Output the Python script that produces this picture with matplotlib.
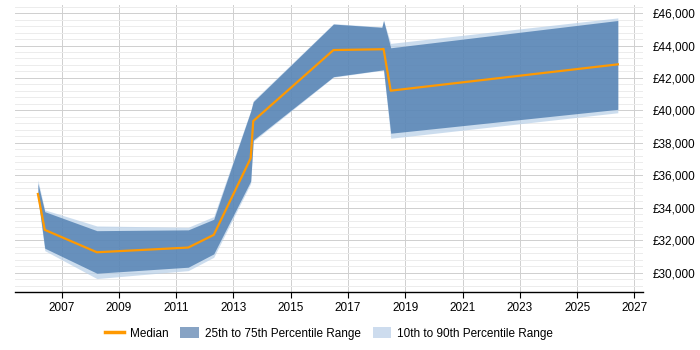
import numpy as np
import matplotlib
matplotlib.use('Agg')
import matplotlib.pyplot as plt
from matplotlib.ticker import FuncFormatter, MultipleLocator
from matplotlib.patches import Patch
from matplotlib.lines import Line2D

# sample dates (decimal years) and salary percentiles
years = [2006.17, 2006.41, 2008.23, 2011.42, 2012.31, 2013.60, 2013.69,
         2016.49, 2018.18, 2018.24, 2018.49, 2026.42]
median = [34860, 32650, 31270, 31560, 32340, 37060, 39350,
          43720, 43770, 43790, 41220, 42840]
p25 = [34650, 31520, 29980, 30350, 31170, 35650, 38180,
       42080, 42490, 42500, 38600, 40070]
p75 = [35520, 33770, 32600, 32650, 33300, 39950, 40540,
       45320, 45120, 45540, 43860, 45540]
p10 = [34550, 31370, 29650, 30140, 30960, 35500, 38100,
       42050, 42470, 42480, 38290, 39860]
p90 = [35720, 33880, 32890, 32810, 33470, 40000, 40600,
       45350, 45150, 45560, 44130, 45700]

xticks = list(range(2007, 2028, 2))

plt.rcParams['font.family'] = ['Liberation Sans', 'DejaVu Sans']

fig = plt.figure(figsize=(7, 3.5), dpi=100)
ax = fig.add_axes([0.021, 0.166, 0.898, 0.82])

# bands first, median on top
ax.fill_between(years, p10, p90, color='#b7cfe8', alpha=0.7, lw=0, zorder=2)
ax.fill_between(years, p25, p75, color='#3d70a7', alpha=0.7, lw=0, zorder=3)
ax.plot(years, median, color='#ff9900', lw=1.6, zorder=4)

ax.set_xlim(2005.36, 2027.31)
ax.set_ylim(28830, 46500)

ax.set_xticks(xticks)
ax.yaxis.tick_right()
ax.yaxis.set_major_locator(MultipleLocator(2000))
ax.yaxis.set_minor_locator(MultipleLocator(400))
ax.yaxis.set_major_formatter(FuncFormatter(lambda v, p: '£{:,.0f}'.format(v)))

ax.grid(True, which='major', axis='both', color='#cfcfcf', lw=0.7, zorder=0)
ax.grid(True, which='minor', axis='y', color='#ececec', lw=0.7, zorder=0)

for s in ['top', 'left', 'right']:
    ax.spines[s].set_visible(False)
ax.spines['bottom'].set_color('black')
ax.spines['bottom'].set_linewidth(1.0)

ax.tick_params(axis='x', direction='out', length=4, color='black', labelsize=8.5, pad=3)
ax.tick_params(axis='y', which='both', length=0, labelsize=8.5, pad=7)

handles = [Line2D([0], [0], color='#ff9900', lw=2.5),
           Patch(facecolor='#87a3c4', edgecolor='none'),
           Patch(facecolor='#cddcee', edgecolor='none')]
labels = ['Median', '25th to 75th Percentile Range', '10th to 90th Percentile Range']
fig.legend(handles, labels, loc='center', bbox_to_anchor=(0.47, 0.048), ncol=3,
           frameon=False, fontsize=8.5, handlelength=1.6, handleheight=1.1,
           columnspacing=1.0, handletextpad=0.5)

fig.savefig('out.png', dpi=100)
